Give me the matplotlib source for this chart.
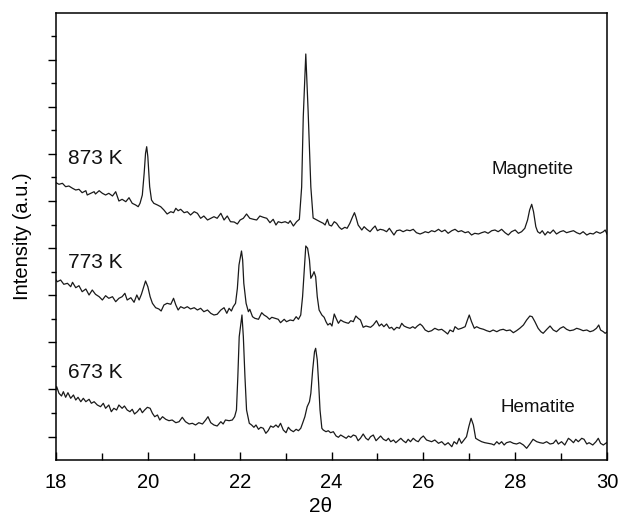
import numpy as np
import matplotlib
matplotlib.use("Agg")
import matplotlib.pyplot as plt
from matplotlib.ticker import FixedLocator, MultipleLocator, NullFormatter

plt.rcParams['font.family'] = ['Liberation Sans', 'DejaVu Sans']

# XRD patterns, already stacked (offset intensity, a.u.)
theta_873 = [18.00, 18.065, 18.14, 18.21, 18.28, 18.36, 18.43, 18.50, 18.57, 18.65, 18.68, 18.755, 18.83,
             18.86, 18.94, 19.01, 19.08, 19.15, 19.23, 19.30, 19.37, 19.44, 19.52, 19.59, 19.66, 19.735,
             19.79, 19.83, 19.88, 19.92, 19.95, 19.975, 20.00, 20.04, 20.08, 20.13, 20.21, 20.28, 20.35,
             20.42, 20.50, 20.56, 20.61, 20.66, 20.715, 20.79, 20.86, 20.93, 21.01, 21.08, 21.15, 21.22,
             21.30, 21.37, 21.44, 21.51, 21.59, 21.66, 21.73, 21.80, 21.88, 21.95,
             22.01, 22.08, 22.15, 22.22, 22.30, 22.37, 22.44, 22.515, 22.59, 22.66, 22.73, 22.79, 22.84,
             22.91, 22.99, 23.06, 23.10, 23.17, 23.24, 23.30, 23.35, 23.385, 23.44, 23.49, 23.55, 23.60,
             23.68, 23.75, 23.82, 23.86, 23.91, 23.95, 24.00, 24.06, 24.11, 24.17, 24.22, 24.29, 24.34,
             24.40, 24.46, 24.50, 24.53, 24.58, 24.66, 24.71, 24.77, 24.84, 24.90, 24.95, 25.00, 25.06,
             25.13, 25.20, 25.26, 25.31, 25.36, 25.42, 25.49, 25.56, 25.64, 25.71, 25.78, 25.85, 25.93,
             26.00, 26.04, 26.11, 26.18, 26.25, 26.33, 26.40, 26.47, 26.54, 26.62, 26.69, 26.76, 26.83,
             26.91, 26.98, 27.05, 27.12, 27.20, 27.27, 27.34, 27.41, 27.49, 27.56, 27.63, 27.705, 27.78,
             27.85, 27.92, 28.00, 28.07, 28.14, 28.21, 28.27, 28.315, 28.36, 28.40, 28.45, 28.49, 28.54,
             28.59, 28.65, 28.71, 28.76, 28.83, 28.90, 28.98, 29.05, 29.12, 29.19, 29.27, 29.34, 29.41,
             29.48, 29.56, 29.63, 29.70, 29.77, 29.85, 29.92, 29.96, 30.00]
int_873 = [277.3, 275.7, 276.7, 273.3, 274, 271.7, 270, 270.7, 267.3, 269.3, 265, 266.7, 268.3,
           266, 269.3, 266.7, 265, 266.7, 264, 268.3, 259, 260.7, 258.3, 262.3, 256.7, 255,
           253.3, 256.7, 265, 286.7, 306.7, 313.3, 303.3, 273.3, 260, 256.7, 255, 253.3, 250,
           246, 248.3, 247.3, 251.7, 249.3, 250.7, 247.3, 248.3, 245, 248.3, 246.7, 241.7, 244,
           240, 241.7, 243.3, 241.7, 246.7, 240, 244, 238.3, 238, 236,
           240, 241.7, 246, 241.7, 240.7, 240, 244, 242.7, 241.7, 237.3, 240.7, 235, 238.3,
           237.3, 238.3, 236.7, 239.3, 234, 238.3, 240.7, 273, 343, 406, 350, 273, 242,
           240, 238.3, 236.7, 235, 240.7, 235, 234, 238.3, 236.7, 232.7, 230.7, 232.7, 231.7,
           236.7, 243.3, 247.3, 243.3, 235, 230, 233.3, 230.7, 228.3, 231.7, 234, 229.3, 230.7,
           230, 228.3, 231.7, 228.3, 225, 229.3, 230, 228.3, 230, 229.3, 230.7, 227.3, 226,
           227.3, 228.3, 227.3, 229.3, 228.3, 230.7, 228.3, 230, 226.7, 229.3, 230.7, 228.3, 229.3,
           227.3, 228.3, 225, 226.7, 226, 227.3, 228.3, 226.7, 229.3, 230, 228.3, 230.7, 227.3,
           225, 228.3, 230, 226.7, 228.3, 231.7, 240, 250, 255.7, 248.3, 233.3, 228.3, 226.7,
           229.3, 225, 228.3, 226.7, 230, 226, 228.3, 229.3, 227.3, 228.3, 229.3, 227.3, 226,
           228.3, 225, 226.7, 226, 228.3, 226.7, 228.3, 230, 226]

theta_773 = [18.00, 18.03, 18.10, 18.17, 18.25, 18.32, 18.36, 18.43, 18.50, 18.57, 18.65, 18.72, 18.79,
             18.86, 18.94, 19.01, 19.08, 19.15, 19.23, 19.30, 19.37, 19.44, 19.50, 19.55, 19.63, 19.70,
             19.76, 19.81, 19.86, 19.90, 19.95, 20.00, 20.05, 20.10, 20.17, 20.24, 20.29, 20.35, 20.42,
             20.50, 20.56, 20.61, 20.66, 20.715, 20.79, 20.86, 20.93, 21.01, 21.08, 21.15, 21.22, 21.30,
             21.37, 21.44, 21.51, 21.59, 21.66, 21.72, 21.77, 21.82, 21.86, 21.91, 21.95, 21.985, 22.04,
             22.065, 22.09, 22.14, 22.19, 22.22, 22.28, 22.33, 22.41, 22.48, 22.53, 22.59, 22.65, 22.70,
             22.77, 22.84, 22.89, 22.97, 23.02, 23.10, 23.17, 23.23, 23.28, 23.33, 23.37, 23.41, 23.44,
             23.48, 23.52, 23.55, 23.59, 23.62, 23.655, 23.69, 23.73, 23.79, 23.84, 23.88, 23.92, 23.97,
             24.01, 24.06, 24.10, 24.15, 24.20, 24.26, 24.32, 24.37, 24.42, 24.475, 24.53, 24.58, 24.63,
             24.69, 24.75, 24.80, 24.85, 24.91, 24.98, 25.04, 25.09, 25.14, 25.20, 25.26, 25.31, 25.36,
             25.42, 25.48, 25.53, 25.58, 25.64, 25.71, 25.77, 25.82, 25.87, 25.93, 25.98,
             26.04, 26.11, 26.18, 26.25, 26.33, 26.40, 26.47, 26.53, 26.58, 26.65, 26.69, 26.76, 26.83,
             26.91, 26.96, 27.00, 27.05, 27.11, 27.16, 27.23, 27.31, 27.38, 27.45, 27.52, 27.60, 27.67,
             27.74, 27.81, 27.89, 27.96, 28.03, 28.10, 28.18, 28.25, 28.32, 28.37, 28.43, 28.50, 28.56,
             28.61, 28.69, 28.76, 28.83, 28.90, 28.98, 29.05, 29.12, 29.19, 29.27, 29.34, 29.41, 29.48,
             29.56, 29.63, 29.70, 29.77, 29.82, 29.86, 29.92, 29.96, 30.00]
int_773 = [180, 178.3, 180, 175.7, 176.7, 173.3, 177.7, 172.3, 174.3, 168.3, 171, 165, 170,
           165.7, 163.3, 160, 164.3, 161.7, 163.3, 158.3, 161.7, 163.3, 166.7, 160, 162.3, 157.7,
           165, 160, 165.7, 171.7, 179, 173.3, 163.3, 156.7, 152.3, 151, 149, 155, 156.7,
           155.7, 161.7, 155, 150, 153.3, 151.7, 153.3, 151, 152.3, 150, 151.7, 148.3, 150,
           146.7, 145, 145.7, 150, 152.3, 146.7, 151.7, 149, 153.3, 156.7, 171.7, 195, 209,
           200, 176.7, 156.7, 148.3, 150.7, 143.3, 141.7, 140.7, 147.3, 145, 143.3, 140.7, 142.7,
           141.7, 140.7, 137.3, 140.7, 138.3, 140, 139.3, 143.3, 140.7, 145, 163.3, 193.3, 214,
           211.7, 200, 181.7, 185, 188.3, 183.3, 163.3, 150, 145, 142.7, 138.3, 135, 136.7,
           134, 146, 141.7, 136.7, 140, 138.3, 137.3, 136.7, 139.3, 138.3, 144, 141.7, 140,
           132.7, 134, 133.3, 132.7, 135, 139.3, 134, 136, 133.3, 136, 131.7, 132.7, 130,
           132.7, 131.7, 136.7, 134, 132.7, 131.7, 133.3, 131.7, 134, 136, 134,
           130, 128.3, 129.3, 131.7, 130, 130.7, 128.3, 126, 130, 128.3, 133.3, 130.7, 131.7,
           133.3, 140, 145, 138.3, 131.7, 133.3, 131.7, 130.7, 129.3, 128.3, 130, 128.3, 130,
           130.7, 129.3, 130, 127.3, 129.3, 131.7, 135, 140, 144, 143.3, 138.3, 131.7, 128.3,
           126.7, 130.7, 134, 130, 128.3, 131.7, 133.3, 130.7, 129.3, 130, 131.7, 130.7, 129.3,
           130, 128.3, 129.3, 131.7, 135, 130, 128.3, 126.7, 128]

theta_673 = [18.00, 18.015, 18.065, 18.12, 18.16, 18.21, 18.26, 18.32, 18.38, 18.43, 18.48, 18.54, 18.595,
             18.65, 18.72, 18.77, 18.83, 18.90, 18.97, 19.03, 19.08, 19.15, 19.205, 19.26, 19.32, 19.37,
             19.44, 19.49, 19.55, 19.61, 19.66, 19.71, 19.77, 19.83, 19.88, 19.93, 19.99, 20.05, 20.10,
             20.15, 20.21, 20.26, 20.32, 20.39, 20.46, 20.53, 20.61, 20.68, 20.75, 20.82, 20.90, 20.97,
             21.04, 21.11, 21.19, 21.26, 21.31, 21.37, 21.44, 21.51, 21.59, 21.64, 21.69, 21.77, 21.84,
             21.89, 21.93, 21.96, 21.99, 22.05, 22.08, 22.115, 22.15, 22.21, 22.26, 22.31, 22.355, 22.41,
             22.46, 22.515, 22.57, 22.62, 22.675, 22.73, 22.79, 22.84, 22.89, 22.95, 23.01, 23.06, 23.11,
             23.17, 23.23, 23.28, 23.33, 23.37, 23.42, 23.47, 23.52, 23.55, 23.59, 23.63, 23.655, 23.69,
             23.72, 23.75, 23.79, 23.82, 23.88, 23.93, 23.98, 24.04, 24.10, 24.15, 24.20, 24.26, 24.32,
             24.37, 24.42, 24.475, 24.53, 24.58, 24.63, 24.69, 24.75, 24.80, 24.85, 24.91, 24.97, 25.02,
             25.07, 25.13, 25.19, 25.24, 25.29, 25.35, 25.40, 25.45, 25.51, 25.56, 25.62, 25.67, 25.72,
             25.78, 25.84, 25.89, 25.94, 26.00, 26.07, 26.18, 26.25, 26.33, 26.40, 26.47, 26.54, 26.62,
             26.67, 26.73, 26.78, 26.83, 26.885, 26.94, 26.99, 27.04, 27.09, 27.14, 27.20, 27.27, 27.34,
             27.41, 27.49, 27.54, 27.60, 27.65, 27.705, 27.76, 27.81, 27.89, 27.96, 28.03, 28.10, 28.18,
             28.25, 28.32, 28.39, 28.47, 28.54, 28.61, 28.685, 28.76, 28.83, 28.89, 28.94, 29.01, 29.08,
             29.16, 29.21, 29.27, 29.32, 29.375, 29.45, 29.50, 29.56, 29.61, 29.69, 29.76, 29.81, 29.86,
             29.92, 29.99]
int_673 = [71.7, 73.3, 66.7, 64, 68.3, 62.7, 67.3, 61.7, 65, 60, 62.7, 58.3, 61.7,
           58.3, 60.7, 56.7, 58.3, 55, 53.3, 56.7, 51.7, 55, 48.3, 51.7, 50, 55,
           51.7, 54, 50, 48.3, 50.7, 46, 48.3, 51.7, 47.3, 50, 52.7, 51.7, 46.7,
           43.3, 45, 40, 43.3, 40.7, 39.3, 40, 37.3, 38.3, 42.7, 38.3, 36, 36.7,
           35, 37.3, 36, 40, 43.3, 37.3, 35, 34, 38.3, 36, 40, 39.3, 40,
           43.3, 50, 83.3, 123.3, 145, 123.3, 83.3, 50, 36.7, 35, 32.7, 35, 30.7,
           32.7, 31.7, 26.7, 29.3, 34, 32.7, 35, 32.7, 36.7, 30, 27.3, 32.7, 30,
           28.3, 30.7, 29.3, 31.7, 36.7, 43.3, 53.3, 58.3, 66.7, 90, 108.3, 111.7, 100,
           76.7, 50, 31.7, 30, 28.3, 29.3, 27.3, 28.3, 24, 22.7, 25, 23.3, 21.7,
           24, 22.7, 25, 24, 19.3, 21.7, 26, 21.7, 20, 23.3, 25, 19.3, 21.7,
           24, 20.7, 19.3, 21.7, 18.3, 20, 17.3, 19.3, 21.7, 19.3, 17.3, 20.7, 18.3,
           21.7, 19.3, 18.3, 21.7, 24, 20, 18.3, 20, 16.7, 18.3, 15, 17.3, 13.3,
           18.3, 16, 21.7, 16.7, 20, 23.3, 33.3, 41.7, 35, 21.7, 20, 18.3, 17.3,
           16.7, 16, 15, 18.3, 16, 18.3, 15, 17.3, 18.3, 16.7, 16, 17.3, 15,
           11.7, 16, 20.7, 18.3, 17.3, 16.7, 18.3, 16, 16.7, 20, 16, 18.3, 15,
           21.7, 20, 17.3, 20.7, 18.3, 21.7, 20.7, 16, 17.3, 15, 18.3, 21.7, 16.7,
           15, 17.3]

temp_labels = ['873 K', '773 K', '673 K']
temp_label_y = [301, 197.5, 88]
phase_labels = ['Magnetite', 'Hematite']
phase_label_pos = [(27.49, 290), (27.67, 52.5)]

fig = plt.figure(figsize=(6.2, 5.22), dpi=100)
ax = fig.add_axes([56 / 620, 62 / 522, 551 / 620, 447 / 522])

for th, inten in [(theta_873, int_873), (theta_773, int_773), (theta_673, int_673)]:
    ax.plot(th, inten, color='#1a1a1a', lw=0.9)

for lab, y in zip(temp_labels, temp_label_y):
    ax.text(18.26, y, lab, fontsize=15, va='center', ha='left', color='#111111')
for lab, (x, y) in zip(phase_labels, phase_label_pos):
    ax.text(x, y, lab, fontsize=13.5, va='center', ha='left', color='#111111')

ax.set_xlim(18, 30)
ax.set_ylim(0, 447)
ax.xaxis.set_major_locator(MultipleLocator(2))
ax.xaxis.set_minor_locator(MultipleLocator(1))
ax.yaxis.set_major_locator(FixedLocator(23.5 + 47.1 * np.arange(10)))
ax.yaxis.set_minor_locator(FixedLocator(47.1 * np.arange(1, 10)))
ax.yaxis.set_major_formatter(NullFormatter())

ax.tick_params(axis='x', which='major', direction='in', length=6, width=1.0,
               labelsize=14.5, pad=9)
ax.tick_params(axis='x', which='minor', direction='in', length=5, width=1.0)
ax.tick_params(axis='y', which='major', direction='out', length=6, width=1.0)
ax.tick_params(axis='y', which='minor', direction='out', length=3.5, width=1.0)

for side in ['top', 'right', 'bottom', 'left']:
    ax.spines[side].set_linewidth(1.1)

ax.set_xlabel('2θ', fontsize=15)
ax.xaxis.set_label_coords(0.481, -0.083)
ax.set_ylabel('Intensity (a.u.)', fontsize=14.5)
ax.yaxis.set_label_coords(-0.043, 0.5)

fig.savefig('out.png', dpi=100)
